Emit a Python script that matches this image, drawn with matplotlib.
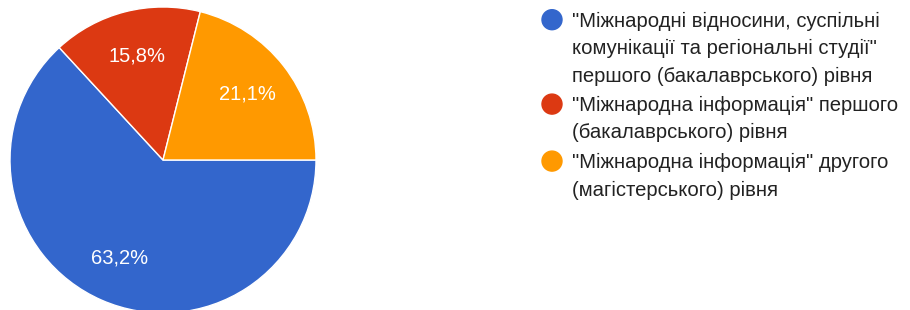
import numpy as np
import matplotlib.pyplot as plt
from matplotlib.patches import Circle

plt.rcParams['font.family'] = ['Liberation Sans', 'DejaVu Sans']

labels = [
    ['"Міжнародні відносини, суспільні',
     'комунікації та регіональні студії"',
     'першого (бакалаврського) рівня'],
    ['"Міжнародна інформація" першого',
     '(бакалаврського) рівня'],
    ['"Міжнародна інформація" другого',
     '(магістерського) рівня'],
]
shares = [63.2, 15.8, 21.1]
colors = ['#3366cc', '#dc3912', '#ff9900']

W, H = 910, 310
fig = plt.figure(figsize=(W / 100, H / 100), dpi=100)

# pie axes, placed in pixels
r_px = 153
cx, cy = 163, 160
ax = fig.add_axes([(cx - r_px) / W, (H - cy - r_px) / H, 2 * r_px / W, 2 * r_px / H])
wedges, texts, autotexts = ax.pie(
    shares, colors=colors, startangle=0, counterclock=False,
    autopct='%1.1f', pctdistance=0.7,
    wedgeprops=dict(edgecolor='white', linewidth=1),
    textprops=dict(color='white', fontsize=14.5),
)
for t, s in zip(autotexts, shares):
    t.set_text(f'{s:.1f}%'.replace('.', ','))
ax.set_xlim(-1, 1)
ax.set_ylim(-1, 1)
ax.set_aspect('auto')
ax.axis('off')

# legend, drawn by hand (pixel coords, y down)
lax = fig.add_axes([0, 0, 1, 1])
lax.set_xlim(0, W)
lax.set_ylim(H, 0)
lax.axis('off')
base = 26.7
for lines, col in zip(labels, colors):
    lax.add_patch(Circle((552, base - 7), 10, color=col))
    for ln in lines:
        lax.text(572, base, ln, fontsize=14.6, color='#222222',
                 va='baseline', ha='left')
        base += 27.4
    base += 2.2

fig.savefig('out.png', dpi=100)
